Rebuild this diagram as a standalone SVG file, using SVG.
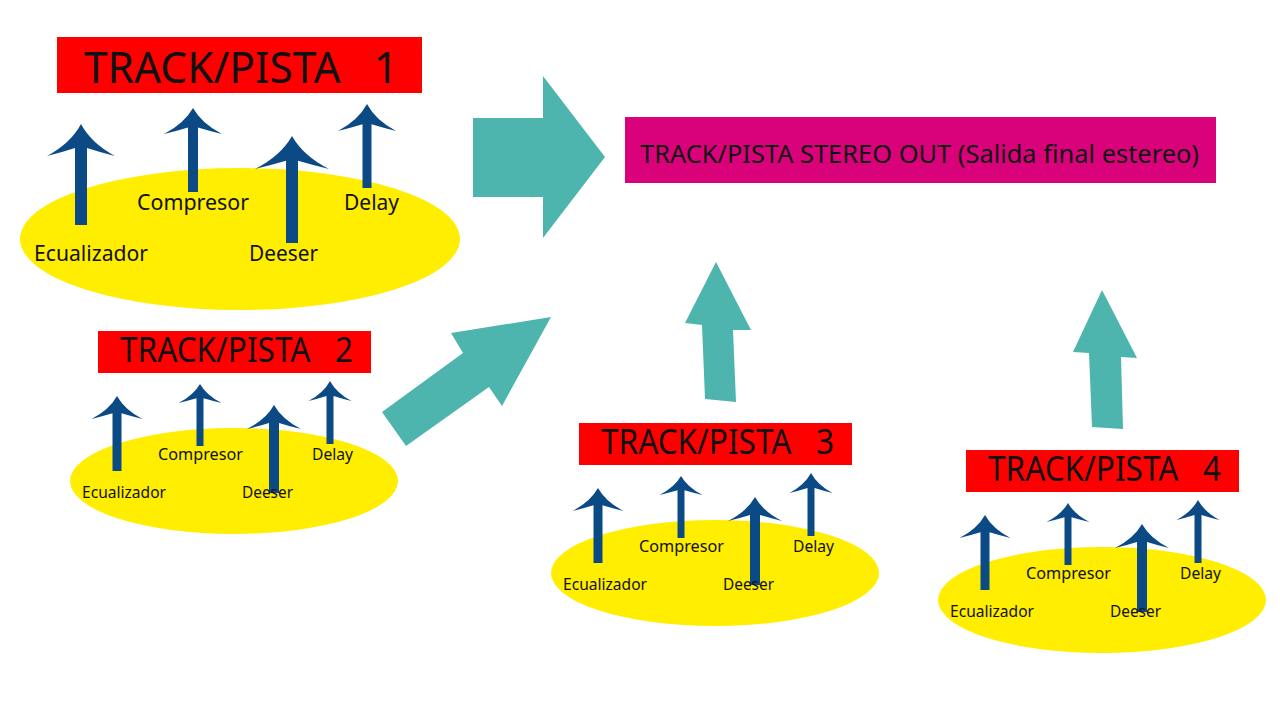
<svg xmlns="http://www.w3.org/2000/svg" width="1280" height="720" viewBox="0 0 1280 720">
<style>
.bg{fill:#ffffff}
.red{fill:#ff0000}
.pink{fill:#d9027b}
.yel{fill:#ffee00}
.blue{fill:#0c4a86}
.teal{fill:#4db5ae}
text{font-family:"Noto Sans","Open Sans","DejaVu Sans",sans-serif;fill:#111111;white-space:pre}
.t1{font-size:44px}
.t2{font-size:34px}
.l1{font-size:22px}
.l2{font-size:17px}
.out{font-size:26px}
</style>
<rect class="bg" x="0" y="0" width="1280" height="720"/>

<g id="connectors">
<path class="teal" d="M473,118 L543,118 L543,76 L605,157 L543,238 L543,197 L473,197Z"/>
<path class="teal" d="M382,412 L463,353 L451,333 L551,317 L502,406 L489,387 L406,446Z"/>
<path class="teal" d="M716,262 L751,330 L733,330 L736,402 L705,399 L702,325 L685,323Z"/>
<path class="teal" d="M1102,290 L1137,358 L1121,357 L1123,429 L1092,427 L1089,353 L1073,352Z"/>
</g>

<g id="stereo-out">
<rect class="pink" x="625" y="117" width="591" height="66"/>
<text class="out" x="640" y="163" textLength="559" lengthAdjust="spacingAndGlyphs">TRACK/PISTA STEREO OUT (Salida final estereo)</text>
</g>

<g id="track1">
<rect class="red" x="57" y="37" width="365" height="56"/>
<text class="t1" x="84" y="83" textLength="314" lengthAdjust="spacingAndGlyphs">TRACK/PISTA   1</text>
<ellipse class="yel" cx="240" cy="239" rx="220" ry="71"/>
<path class="blue" d="M81,124 Q91.2,143.2 115,156 Q99.7,152.2 87,148 L87,225 L75,225 L75,148 Q62.3,152.2 47,156 Q70.8,143.2 81,124Z"/>
<path class="blue" d="M193,108 Q201.7,123.6 222,134 Q209,130.9 198,127.5 L198,192 L188,192 L188,127.5 Q177,130.9 164,134 Q184.3,123.6 193,108Z"/>
<path class="blue" d="M292,136 Q303.1,155.8 329,169 Q312.4,165 298,160.8 L298,243 L286,243 L286,160.8 Q271.6,165 255,169 Q280.9,155.8 292,136Z"/>
<path class="blue" d="M367,104 Q375.7,120.2 396,131 Q383,127.8 371.5,124.3 L371.5,188 L362.5,188 L362.5,124.3 Q351,127.8 338,131 Q358.3,120.2 367,104Z"/>
<text class="l1" x="137" y="210" textLength="112" lengthAdjust="spacingAndGlyphs">Compresor</text>
<text class="l1" x="344" y="210" textLength="55" lengthAdjust="spacingAndGlyphs">Delay</text>
<text class="l1" x="34" y="261" textLength="114" lengthAdjust="spacingAndGlyphs">Ecualizador</text>
<text class="l1" x="249" y="261" textLength="69" lengthAdjust="spacingAndGlyphs">Deeser</text>
</g>

<g id="track2">
<rect class="red" x="98" y="331" width="273" height="42"/>
<text class="t2" x="120" y="362" textLength="233" lengthAdjust="spacingAndGlyphs">TRACK/PISTA   2</text>
<ellipse class="yel" cx="234" cy="481" rx="164" ry="53"/>
<path class="blue" d="M117,396 Q124.7,409.8 142.5,419 Q131,416.2 121.5,413.3 L121.5,471 L112.5,471 L112.5,413.3 Q103,416.2 91.5,419 Q109.3,409.8 117,396Z"/>
<path class="blue" d="M200,384 Q206.5,395.4 221.5,403 Q211.8,400.7 203.5,398.3 L203.5,446 L196.5,446 L196.5,398.3 Q188.2,400.7 178.5,403 Q193.5,395.4 200,384Z"/>
<path class="blue" d="M274,405 Q282.1,419.4 301,429 Q288.9,426.1 279,423 L279,493 L269,493 L269,423 Q259.1,426.1 247,429 Q265.9,419.4 274,405Z"/>
<path class="blue" d="M330,381 Q336.5,393 351.5,401 Q341.8,398.6 333.5,396 L333.5,444 L326.5,444 L326.5,396 Q318.2,398.6 308.5,401 Q323.5,393 330,381Z"/>
<text class="l2" x="158" y="460" textLength="85" lengthAdjust="spacingAndGlyphs">Compresor</text>
<text class="l2" x="312" y="460" textLength="41" lengthAdjust="spacingAndGlyphs">Delay</text>
<text class="l2" x="82" y="498" textLength="84" lengthAdjust="spacingAndGlyphs">Ecualizador</text>
<text class="l2" x="242" y="498" textLength="51" lengthAdjust="spacingAndGlyphs">Deeser</text>
</g>

<g id="track3" transform="translate(481,92)">
<rect class="red" x="98" y="331" width="273" height="42"/>
<text class="t2" x="120" y="362" textLength="233" lengthAdjust="spacingAndGlyphs">TRACK/PISTA   3</text>
<ellipse class="yel" cx="234" cy="481" rx="164" ry="53"/>
<path class="blue" d="M117,396 Q124.7,409.8 142.5,419 Q131,416.2 121.5,413.3 L121.5,471 L112.5,471 L112.5,413.3 Q103,416.2 91.5,419 Q109.3,409.8 117,396Z"/>
<path class="blue" d="M200,384 Q206.5,395.4 221.5,403 Q211.8,400.7 203.5,398.3 L203.5,446 L196.5,446 L196.5,398.3 Q188.2,400.7 178.5,403 Q193.5,395.4 200,384Z"/>
<path class="blue" d="M274,405 Q282.1,419.4 301,429 Q288.9,426.1 279,423 L279,493 L269,493 L269,423 Q259.1,426.1 247,429 Q265.9,419.4 274,405Z"/>
<path class="blue" d="M330,381 Q336.5,393 351.5,401 Q341.8,398.6 333.5,396 L333.5,444 L326.5,444 L326.5,396 Q318.2,398.6 308.5,401 Q323.5,393 330,381Z"/>
<text class="l2" x="158" y="460" textLength="85" lengthAdjust="spacingAndGlyphs">Compresor</text>
<text class="l2" x="312" y="460" textLength="41" lengthAdjust="spacingAndGlyphs">Delay</text>
<text class="l2" x="82" y="498" textLength="84" lengthAdjust="spacingAndGlyphs">Ecualizador</text>
<text class="l2" x="242" y="498" textLength="51" lengthAdjust="spacingAndGlyphs">Deeser</text>
</g>

<g id="track4" transform="translate(868,119)">
<rect class="red" x="98" y="331" width="273" height="42"/>
<text class="t2" x="120" y="362" textLength="233" lengthAdjust="spacingAndGlyphs">TRACK/PISTA   4</text>
<ellipse class="yel" cx="234" cy="481" rx="164" ry="53"/>
<path class="blue" d="M117,396 Q124.7,409.8 142.5,419 Q131,416.2 121.5,413.3 L121.5,471 L112.5,471 L112.5,413.3 Q103,416.2 91.5,419 Q109.3,409.8 117,396Z"/>
<path class="blue" d="M200,384 Q206.5,395.4 221.5,403 Q211.8,400.7 203.5,398.3 L203.5,446 L196.5,446 L196.5,398.3 Q188.2,400.7 178.5,403 Q193.5,395.4 200,384Z"/>
<path class="blue" d="M274,405 Q282.1,419.4 301,429 Q288.9,426.1 279,423 L279,493 L269,493 L269,423 Q259.1,426.1 247,429 Q265.9,419.4 274,405Z"/>
<path class="blue" d="M330,381 Q336.5,393 351.5,401 Q341.8,398.6 333.5,396 L333.5,444 L326.5,444 L326.5,396 Q318.2,398.6 308.5,401 Q323.5,393 330,381Z"/>
<text class="l2" x="158" y="460" textLength="85" lengthAdjust="spacingAndGlyphs">Compresor</text>
<text class="l2" x="312" y="460" textLength="41" lengthAdjust="spacingAndGlyphs">Delay</text>
<text class="l2" x="82" y="498" textLength="84" lengthAdjust="spacingAndGlyphs">Ecualizador</text>
<text class="l2" x="242" y="498" textLength="51" lengthAdjust="spacingAndGlyphs">Deeser</text>
</g>
</svg>
